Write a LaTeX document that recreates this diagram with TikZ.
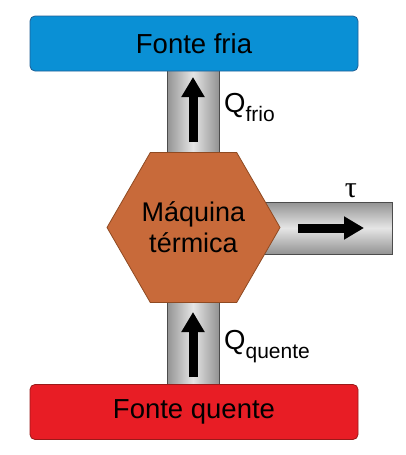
\documentclass[tikz,border=0pt]{standalone}
\usepackage{fontspec}
\setmainfont{Liberation Sans}
\newfontfamily\serifgreek{Liberation Serif}
\usetikzlibrary{shapes.geometric,arrows.meta}
\definecolor{coldblue}{HTML}{0A90D5}
\definecolor{coldedge}{HTML}{1F5E94}
\definecolor{hotred}{HTML}{E81D25}
\definecolor{hotedge}{HTML}{9A1A1A}
\definecolor{engine}{HTML}{C86A3A}
\definecolor{engineedge}{HTML}{8F4A22}
\newcommand{\lowsub}[1]{\raisebox{-9pt}{\fontsize{21}{21}\selectfont #1}}
\begin{document}
\begin{tikzpicture}[x=1pt,y=-1pt,
  font=\fontsize{27.5}{31}\selectfont,
  source/.style={draw, line width=0.8pt, rounded corners=5pt, minimum width=328pt, minimum height=55pt, inner sep=0pt},
  vpipe/.style={draw=black!70, line width=0.8pt, left color=gray!85, right color=gray!85, middle color=gray!20, minimum width=52pt, inner sep=0pt},
  hpipe/.style={draw=black!70, line width=0.8pt, top color=gray!85, bottom color=gray!85, middle color=gray!20, minimum height=52pt, inner sep=0pt},
  flow/.style={line width=9pt, -{Triangle[width=22pt,length=20pt]}},
  lbl/.style={inner sep=0pt, anchor=base west}
]
\useasboundingbox (0,0) rectangle (406,455);
% pipes
\node[vpipe, minimum height=86pt] (ptop) at (193,113) {};
\node[vpipe, minimum height=86pt] (pbot) at (193,342) {};
\node[hpipe, minimum width=130pt] (pright) at (327,228) {};
% sources
\node[source, fill=coldblue, draw=coldedge] (cold) at (194,43.5) {Fonte fria};
\node[source, fill=hotred, draw=hotedge] (hot) at (194,412) {Fonte quente};
% engine
\node[regular polygon, regular polygon sides=6, minimum size=173pt, inner sep=0pt,
      fill=engine, draw=engineedge, line width=0.8pt, align=center,
      font=\fontsize{27}{31}\selectfont] (eng) at (193.5,227.5) {Máquina\\térmica};
% flow arrows
\coordinate (a1s) at (193,142);
\coordinate (a1e) at (193,77);
\coordinate (a2s) at (193,377);
\coordinate (a2e) at (193,312);
\coordinate (a3s) at (298,228);
\coordinate (a3e) at (364,228);
\draw[flow] (a1s) -- (a1e);
\draw[flow] (a2s) -- (a2e);
\draw[flow] (a3s) -- (a3e);
% labels
\node[lbl] (qf) at (224,112) {Q\lowsub{frio}};
\node[lbl] (qq) at (224,349) {Q\lowsub{quente}};
\node[inner sep=0pt] (tau) at (351,191) {\fontsize{30}{30}\selectfont\serifgreek τ};
\end{tikzpicture}
\end{document}
